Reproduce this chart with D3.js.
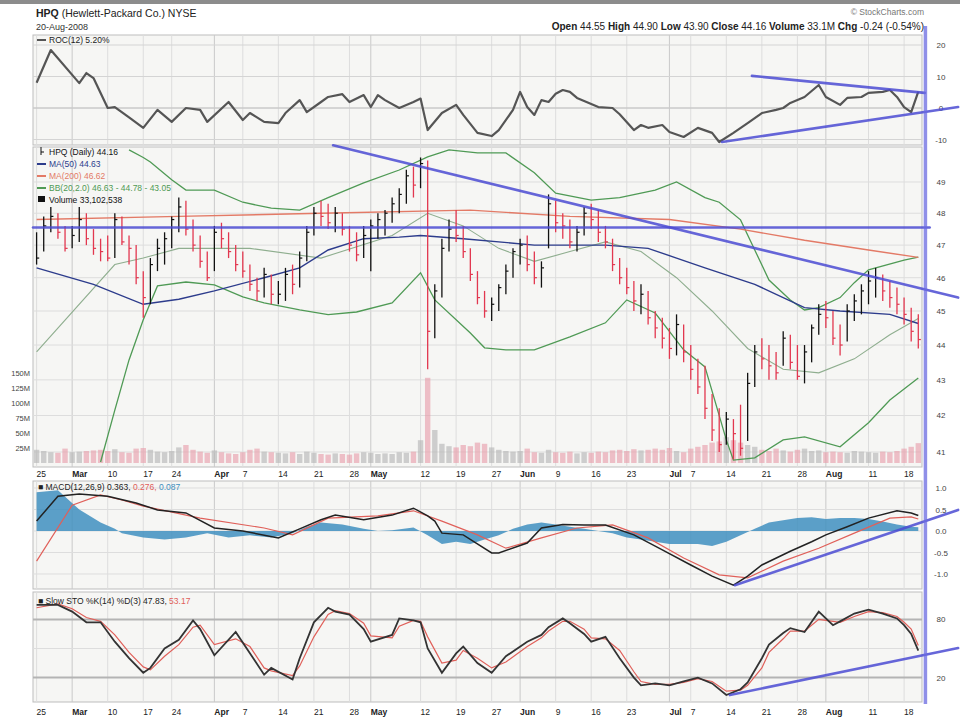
<!DOCTYPE html>
<html><head><meta charset="utf-8">
<script src="https://cdn.jsdelivr.net/npm/d3@7"></script>
<style>body{margin:0;background:#fff;}svg{display:block;font-family:"Liberation Sans",Arial,sans-serif;}</style>
</head><body><svg id="c" width="960" height="720"></svg>
<script>
// ---------- DATA ----------
const dates = ["02-25","02-26","02-27","02-28","02-29",
"03-03","03-04","03-05","03-06","03-07","03-10","03-11","03-12","03-13","03-14",
"03-17","03-18","03-19","03-20","03-24","03-25","03-26","03-27","03-28",
"03-31","04-01","04-02","04-03","04-04","04-07","04-08","04-09","04-10","04-11",
"04-14","04-15","04-16","04-17","04-18","04-21","04-22","04-23","04-24","04-25",
"04-28","04-29","04-30","05-01","05-02","05-05","05-06","05-07","05-08","05-09",
"05-12","05-13","05-14","05-15","05-16","05-19","05-20","05-21","05-22","05-23",
"05-27","05-28","05-29","05-30","06-02","06-03","06-04","06-05","06-06",
"06-09","06-10","06-11","06-12","06-13","06-16","06-17","06-18","06-19","06-20",
"06-23","06-24","06-25","06-26","06-27","06-30","07-01","07-02","07-03",
"07-07","07-08","07-09","07-10","07-11","07-14","07-15","07-16","07-17","07-18",
"07-21","07-22","07-23","07-24","07-25","07-28","07-29","07-30","07-31","08-01",
"08-04","08-05","08-06","08-07","08-08","08-11","08-12","08-13","08-14","08-15",
"08-18","08-19","08-20"];

const high = [47.4,47.9,48.2,48.0,47.6, 47.6,48.2,48.0,47.5,47.2, 47.3,48.0,47.9,47.3,47.0,
 46.2,46.6,47.2,47.4, 47.9,48.5,48.4,47.8,47.3, 46.8,47.6,47.7,47.4,47.0, 46.8,46.4,46.0,46.3,46.1,
 45.9,46.3,46.4,46.8,47.6, 48.2,48.4,48.3,48.2,48.0, 47.6,47.4,47.6,47.8,48.0, 48.1,48.5,48.8,49.4,49.5,
 49.8,49.7,45.8,47.2,47.8, 48.1,47.6,46.9,46.2,45.6, 45.4,45.8,46.4,46.9, 47.2,47.3,46.8,46.5,48.6,
 48.4,48.0,47.8,47.6,48.2, 48.3,48.1,47.6,47.2,46.6, 46.3,45.9,45.8,45.6,45.0, 44.8,44.5,44.9,44.6,
 44.0,43.6,43.4,42.6,42.2, 42.1,41.9,42.3,43.2,44.0, 44.2,44.0,43.8,44.4,44.3, 44.0,44.0,44.6,45.2,45.3,
 45.0,44.6,45.2,45.5,45.8, 46.2,46.3,46.1,45.9,45.7, 45.4,45.1,44.9];
const low = [46.4,46.8,47.4,47.2,46.8, 46.9,47.1,47.0,46.7,46.5, 46.5,46.6,47.0,46.4,45.8,
 44.8,45.2,46.2,46.4, 46.9,47.4,47.3,46.8,46.3, 45.9,46.2,46.9,46.6,46.2, 46.0,45.6,45.3,45.4,45.2,
 45.2,45.3,45.5,45.7,46.5, 47.3,47.6,47.5,47.4,47.3, 46.8,46.5,46.6,46.2,47.2, 47.3,47.7,48.0,48.3,48.5,
 48.8,43.3,44.2,45.4,46.8, 47.1,46.6,45.9,45.2,44.8, 44.7,45.0,45.5,46.0, 46.4,46.2,45.8,45.7,46.9,
 47.4,47.2,46.9,46.8,47.3, 47.5,47.1,46.9,46.2,45.8, 45.5,45.0,44.9,44.6,44.2, 43.9,43.6,43.7,43.5,
 43.0,42.6,41.9,41.3,41.0, 41.2,40.8,40.9,41.3,42.8, 43.3,43.0,43.0,43.4,43.3, 43.0,42.9,43.5,44.3,44.5,
 44.0,43.7,44.1,44.7,44.9, 45.2,45.4,45.3,45.1,44.9, 44.6,44.1,43.9];
const close = [46.6,47.6,47.9,47.4,46.9, 47.3,47.8,47.2,46.9,46.8, 46.6,47.8,47.1,46.9,46.0,
 45.4,46.4,46.9,47.2, 47.8,48.2,47.5,47.0,46.5, 46.0,47.4,47.2,46.8,46.4, 46.2,45.8,45.6,46.1,45.5,
 45.5,46.1,45.8,46.6,47.4, 48.0,47.9,47.7,48.0,47.5, 47.0,46.7,47.3,47.6,47.8, 48.0,48.3,48.6,49.2,48.9,
 49.6,44.4,45.6,46.9,47.5, 47.3,46.8,46.1,45.4,45.0, 45.2,45.7,46.2,46.8, 47.0,46.4,46.0,46.3,48.3,
 47.7,47.6,47.1,47.4,48.0, 47.8,47.4,47.1,46.4,46.0, 45.7,45.3,45.5,44.8,44.5, 44.2,43.9,44.6,43.8,
 43.3,42.8,42.2,41.6,41.2, 41.9,41.5,41.1,42.9,43.8, 43.6,43.4,43.2,44.2,43.5, 43.1,43.8,44.5,44.9,44.8,
 44.2,44.0,45.0,45.3,45.6, 45.9,46.0,45.6,45.4,45.2, 44.9,44.4,44.16];
const volume = [22,20,18,17,24, 18,19,20,21,22, 20,23,18,17,24, 25,22,19,18, 20,26,30,22,19,
 17,21,18,16,15, 18,22,24,19,18, 17,16,18,15,19, 17,15,14,16,15, 14,16,18,17,15, 16,15,18,17,19,
 38,142,55,32,28, 26,30,28,34,32, 26,22,20,19, 20,24,18,17,22, 18,17,19,16,18, 17,19,18,21,22,
 20,23,21,22,24, 22,25,20,18, 24,27,30,34,36, 43,38,34,30,27, 22,20,24,21,19, 22,24,20,21,18,
 19,18,17,20,19, 18,17,19,18,20, 24,27,33.1];

const xTicks = [["02-25","25"],["03-03","Mar"],["03-10","10"],["03-17","17"],["03-24","24"],
 ["04-01","Apr"],["04-07","7"],["04-14","14"],["04-21","21"],["04-28","28"],["05-01","May"],
 ["05-12","12"],["05-19","19"],["05-27","27"],["06-02","Jun"],["06-09","9"],["06-16","16"],
 ["06-23","23"],["07-01","Jul"],["07-07","7"],["07-14","14"],["07-21","21"],["07-28","28"],
 ["08-01","Aug"],["08-11","11"],["08-18","18"]];
const monthNames = ["Mar","Apr","May","Jun","Jul","Aug"];

const priceTicks = [41,42,43,44,45,46,47,48,49];
const rocTicks = [20,10,0,-10];
const macdTicks = [1.0,0.5,0.0,-0.5,-1.0];
const stoTicks = [80,20];
const volTicks = [25,50,75,100,125,150];

const ma50 = [["02-25",46.3],["03-06",45.8],["03-17",45.2],["03-25",45.35],["04-01",45.6],["04-10",46.0],
 ["04-17",46.3],["04-23",46.85],["04-30",47.2],["05-07",47.25],["05-12",47.3],["05-20",47.2],["06-04",47.0],
 ["06-18",47.0],["06-26",46.9],["07-02",46.6],["07-09",46.3],["07-18",45.8],["07-29",45.1],["08-05",45.0],
 ["08-14",44.9],["08-20",44.63]];
const ma200 = [["02-25",47.8],["03-25",47.9],["04-22",48.0],["05-21",48.1],["06-11",47.9],["07-01",47.8],
 ["07-16",47.5],["07-29",47.15],["08-11",46.85],["08-20",46.62]];
const bbUpper = [["03-13",50.05],["03-17",49.8],["03-18",49.65],["03-24",49.07],["03-26",48.74],["04-01",48.74],
 ["04-07",48.35],["04-11",48.16],["04-17",48.1],["04-23",48.5],["04-30",48.97],["05-07",49.39],["05-13",49.82],
 ["05-16",50.05],["05-22",49.95],["05-29",49.95],["06-04",49.3],["06-09",48.64],["06-16",48.42],["06-20",48.5],
 ["06-27",48.74],["07-02",49.0],["07-09",48.5],["07-11",48.35],["07-16",47.79],["07-18",46.85],["07-22",45.93],
 ["07-25",45.33],["07-29",45.03],["07-31",45.1],["08-05",45.4],["08-07",45.85],["08-11",46.24],["08-18",46.54],
 ["08-20",46.63]];
const bbMiddle = [["02-25",43.8],["03-11",46.4],["03-17",46.6],["03-25",46.9],["04-08",46.9],["04-22",46.6],
 ["05-06",47.3],["05-13",48.0],["05-20",47.6],["05-28",46.9],["06-04",46.5],["06-11",46.8],["06-18",47.1],
 ["06-25",46.8],["07-02",46.0],["07-10",45.0],["07-17",43.9],["07-24",43.3],["07-31",43.2],["08-07",43.6],
 ["08-14",44.3],["08-20",44.78]];
const bbLower = [["03-07",40.73],["03-11",42.15],["03-13",43.57],["03-17",44.74],["03-19",45.75],["03-26",45.87],
 ["04-01",45.78],["04-07",45.42],["04-10",45.24],["04-17",45.03],["04-23",44.89],["04-29",44.97],["05-06",45.24],
 ["05-12",46.15],["05-14",45.33],["05-21",44.35],["05-23",43.92],["05-29",43.86],["06-04",43.86],["06-11",44.24],
 ["06-18",44.65],["06-23",45.33],["06-27",44.94],["07-03",43.86],["07-09",43.37],["07-14",41.33],["07-15",40.78],
 ["07-18",40.84],["07-24",41.33],["07-29",41.41],["08-05",41.14],["08-11",41.8],["08-14",42.43],["08-20",43.05]];

const roc = [["02-25",8],["02-27",18.4],["03-04",7.9],["03-05",11.1],["03-06",9.5],["03-10",0],["03-11",0.3],
 ["03-13",-3],["03-17",-6.3],["03-19",-0.6],["03-24",-4.4],["03-26",0],["03-28",-0.6],["03-31",-4.4],["04-03",1.9],
 ["04-07",-3.8],["04-08",-1.6],["04-10",-4.4],["04-14",-4.8],["04-15",-1.6],["04-17",2.5],["04-18",-1.3],
 ["04-22",1.9],["04-23",3.5],["04-25",4.4],["04-28",1.9],["04-30",4.1],["05-01",0.3],["05-02",4.1],["05-05",2.5],
 ["05-07",0],["05-09",1.9],["05-12",3.0],["05-13",-7.0],["05-15",-1.6],["05-19",1.0],["05-20",-2.2],["05-22",-7.9],
 ["05-27",-8.9],["05-28",-7.0],["05-30",-0.6],["06-02",5.1],["06-03",0.3],["06-04",-2.2],["06-05",2.5],["06-06",1.9],
 ["06-09",4.5],["06-10",5.7],["06-11",5.1],["06-12",3.2],["06-17",0.3],["06-19",0],["06-20",-2],["06-24",-7.0],
 ["06-25",-5.4],["06-26",-6.3],["06-30",-5.4],["07-01",-7.6],["07-03",-9.2],["07-08",-6.3],["07-10",-7.9],
 ["07-11",-10.8],["07-15",-7.9],["07-17",-4.8],["07-21",-1.6],["07-23",-0.6],["07-24",0],["07-25",1.6],
 ["07-29",3.5],["07-31",7.3],["08-01",3.5],["08-05",1.0],["08-06",3.2],["08-08",3.5],["08-11",4.8],["08-13",5.1],
 ["08-14",5.7],["08-15",3.5],["08-18",0.3],["08-19",-1.3],["08-20",5.2]];

const macd = [["02-25",0.23],["02-28",0.81],["03-04",0.86],["03-10",0.81],["03-14",0.65],["03-19",0.49],
 ["03-26",0.42],["04-01",0.07],["04-07",0],["04-14",-0.16],["04-17",0.05],["04-22",0.26],["04-24",0.37],
 ["04-30",0.26],["05-06",0.37],["05-09",0.53],["05-13",0.35],["05-14",0.23],["05-15",-0.05],["05-20",-0.09],
 ["05-27",-0.51],["05-28",-0.51],["06-03",-0.28],["06-05",0.07],["06-10",0.15],["06-13",0.14],["06-18",0.14],
 ["06-24",-0.09],["06-30",-0.44],["07-07",-0.79],["07-10",-1.05],["07-15",-1.26],["07-17",-1.05],["07-21",-0.79],
 ["07-25",-0.47],["07-30",-0.25],["08-01",-0.09],["08-06",0.1],["08-11",0.3],["08-15",0.47],["08-19",0.42],
 ["08-20",0.36]];
const macdSignal = [["02-25",-0.7],["03-03",0.6],["03-07",0.84],["03-12",0.72],["03-17",0.58],["03-28",0.3],
 ["04-10",0.07],["04-16",-0.09],["04-23",0.3],["05-02",0.35],["05-09",0.47],["05-15",0.23],["05-22",-0.09],
 ["05-29",-0.4],["06-05",-0.16],["06-12",0.07],["06-19",0.14],["06-26",-0.16],["07-03",-0.63],["07-11",-1.02],
 ["07-17",-1.09],["07-24",-0.7],["07-31",-0.4],["08-07",-0.05],["08-14",0.3],["08-19",0.33],["08-20",0.28]];
const macdHist = [["02-25",0.9],["02-28",0.95],["03-04",0.5],["03-07",0.2],["03-11",0.05],["03-12",-0.05],
 ["03-17",-0.15],["03-20",-0.2],["03-26",-0.15],["03-31",-0.05],["04-03",-0.15],["04-08",-0.1],["04-11",-0.15],
 ["04-16",-0.05],["04-18",0.1],["04-22",0.2],["04-25",0.15],["04-30",0.05],["05-02",0],["05-06",0.02],
 ["05-09",0.08],["05-13",-0.1],["05-15",-0.3],["05-19",-0.25],["05-21",-0.3],["05-23",-0.2],["05-28",-0.1],
 ["05-30",0.05],["06-03",0.15],["06-05",0.2],["06-09",0.15],["06-11",0.1],["06-13",0.05],["06-17",0],
 ["06-19",-0.05],["06-23",-0.15],["06-25",-0.2],["06-27",-0.25],["07-01",-0.3],["07-03",-0.3],["07-08",-0.3],
 ["07-10",-0.35],["07-14",-0.25],["07-16",-0.1],["07-18",0.05],["07-22",0.2],["07-24",0.25],["07-28",0.3],
 ["07-30",0.32],["08-01",0.28],["08-05",0.3],["08-07",0.3],["08-11",0.28],["08-13",0.22],["08-15",0.15],
 ["08-19",0.1],["08-20",0.087]];

const stoDates = ["02-25","02-28","03-03","03-05","03-07","03-11","03-13","03-17","03-18","03-20","03-25","03-27",
 "03-28","04-01","04-04","04-08","04-10","04-11","04-16","04-17","04-21","04-23","04-24","04-28","04-30","05-01",
 "05-06","05-07","05-09","05-12","05-13","05-15","05-19","05-20","05-22","05-27","05-29","06-03","06-05","06-06",
 "06-10","06-11","06-13","06-16","06-18","06-20","06-24","06-25","06-27","07-01","07-03","07-08","07-10","07-14",
 "07-16","07-17","07-21","07-22","07-24","07-25","07-29","07-31","08-04","08-05","08-07","08-11","08-13","08-15",
 "08-18","08-19","08-20"];
const stoK = [95,95,88,77,77,57,40,25,30,50,59,79,70,43,67,45,23,30,18,40,77,92,88,85,70,57,64,81,79,77,50,25,45,52,
 35,25,42,57,64,72,81,76,65,57,62,40,20,12,14,12,16,20,14,2,8,15,40,54,66,71,67,88,74,78,86,90,86,81,74,65,47.83];
const stoD = [92,96,91,82,78,64,46,31,28,42,54,72,74,54,60,52,30,27,22,32,62,85,89,86,76,63,61,73,79,78,62,35,38,48,
 40,30,36,52,61,68,78,78,70,61,60,48,26,16,13,13,15,19,16,6,7,12,30,46,60,68,68,80,78,77,83,88,87,83,77,70,53.17];

// hand-drawn trend lines: [trading day number, value]
const trendPrice = [[[-0.5,47.55],[125.6,47.55]], [[41.7,50.2],[129.6,45.4]]];
const trendRoc = [[[100.6,10.2],[124.9,4.8]], [[96.4,-10.8],[129.6,0.3]]];
const trendMacd = [[[98.2,-1.26],[129.6,0.49]]];
const trendSto = [[[97.5,2],[129.6,50.5]]];
const markerDay = 125;

// ---------- LAYOUT ----------
const svg = d3.select("#c");
const L = 33, R = 922;
const P = {roc:{t:35,b:145}, price:{t:147,b:467}, macd:{t:481,b:589}, sto:{t:592,b:702}};
const di = new Map(dates.map((d,i)=>[d,i]));
const x = d3.scaleLinear().domain([0, dates.length-1]).range([36.6, 918.3]);
const xd = d => x(di.get(d));
const yRoc = d3.scaleLinear().domain([0,10]).range([108,76.5]);
const yPrice = d3.scaleLog().domain([41,49]).range([452,182]);
const yVol = d3.scaleLinear().domain([0,150]).range([463,373]);
const yMacd = d3.scaleLinear().domain([0,1]).range([531,488]);
const ySto = d3.scaleLinear().domain([0,100]).range([697,600]);

svg.append("rect").attr("width",960).attr("height",720).attr("fill","#fff");
svg.append("rect").attr("width",960).attr("height",4).attr("fill","#8c8c8c");

const defs = svg.append("defs");
Object.entries(P).forEach(([k,p])=>{
  defs.append("clipPath").attr("id","clip-"+k).append("rect")
    .attr("x",L).attr("y",p.t).attr("width",R-L).attr("height",p.b-p.t);
});

// panels + grids
const tickIdx = xTicks.map(t=>di.get(t[0]));
Object.entries(P).forEach(([k,p])=>{
  const g = svg.append("g");
  g.append("rect").attr("x",L).attr("y",p.t).attr("width",R-L).attr("height",p.b-p.t)
    .attr("fill","#f6f6f4").attr("stroke","#bdbdbd");
  g.selectAll("line.v").data(xTicks).join("line")
    .attr("x1",d=>xd(d[0])).attr("x2",d=>xd(d[0])).attr("y1",p.t).attr("y2",p.b)
    .attr("stroke",d=>monthNames.includes(d[1])?"#c9c9c9":"#dddddd").attr("stroke-width",1);
});
function hgrid(vals, ys, color, w){
  svg.append("g").selectAll("line").data(vals).join("line")
    .attr("x1",L).attr("x2",R).attr("y1",d=>ys(d)).attr("y2",d=>ys(d))
    .attr("stroke",color).attr("stroke-width",w||1);
}
hgrid(priceTicks, yPrice, "#dddddd");
hgrid(rocTicks.filter(v=>yRoc(v)>P.roc.t && yRoc(v)<P.roc.b), yRoc, "#d4d4d4");
hgrid([0], yRoc, "#c4c4c4");
hgrid(macdTicks, yMacd, "#dddddd");
hgrid([50], ySto, "#dddddd");
hgrid(stoTicks, ySto, "#b4b4b4", 2);

// right axis labels
function rightLabels(vals, ys, fmt){
  svg.append("g").selectAll("text").data(vals).join("text")
    .attr("x",941).attr("y",d=>ys(d)+3).attr("text-anchor","middle")
    .attr("font-size",8).attr("fill","#444").text(fmt);
}
rightLabels(priceTicks, yPrice, d=>d);
rightLabels(rocTicks, yRoc, d=>d);
rightLabels(macdTicks, yMacd, d=>d.toFixed(1));
rightLabels(stoTicks, ySto, d=>d);
svg.append("g").selectAll("text").data(volTicks).join("text")
  .attr("x",30).attr("y",d=>yVol(d)+3).attr("text-anchor","end")
  .attr("font-size",7.5).attr("fill","#444").text(d=>d+"M");

// x labels
[477,715].forEach(yy=>{
  svg.append("g").selectAll("text").data(xTicks).join("text")
    .attr("x",d=>xd(d[0])).attr("y",yy).attr("font-size",8.5)
    .attr("font-weight",d=>monthNames.includes(d[1])?"bold":"normal")
    .attr("fill","#222").text(d=>d[1]);
});

// ---------- PRICE PANEL ----------
const gp = svg.append("g").attr("clip-path","url(#clip-price)");
const isDown = i => i>0 && close[i] < close[i-1];
gp.selectAll("rect.vol").data(volume).join("rect")
  .attr("x",(d,i)=>x(i)-2.7).attr("width",5.4)
  .attr("y",d=>yVol(d)).attr("height",d=>yVol(0)-yVol(d))
  .attr("fill",(d,i)=>isDown(i)?"#e79aa6":"#b3b3b3").attr("opacity",0.6);

const linePrice = d3.line().x(d=>xd(d[0])).y(d=>yPrice(d[1]));
gp.append("path").datum(bbMiddle).attr("d",linePrice).attr("fill","none").attr("stroke","#8fae8f").attr("stroke-width",1.1);
gp.append("path").datum(bbUpper).attr("d",linePrice).attr("fill","none").attr("stroke","#4f9a55").attr("stroke-width",1.3);
gp.append("path").datum(bbLower).attr("d",linePrice).attr("fill","none").attr("stroke","#4f9a55").attr("stroke-width",1.3);
gp.append("path").datum(ma200).attr("d",linePrice).attr("fill","none").attr("stroke","#e37a66").attr("stroke-width",1.4);
gp.append("path").datum(ma50).attr("d",linePrice).attr("fill","none").attr("stroke","#2d3c8c").attr("stroke-width",1.4);

const bars = gp.append("g");
close.forEach((c,i)=>{
  const col = isDown(i) ? "#e2374f" : "#111";
  bars.append("line").attr("x1",x(i)).attr("x2",x(i)).attr("y1",yPrice(high[i])).attr("y2",yPrice(low[i]))
    .attr("stroke",col).attr("stroke-width",1.3);
  bars.append("line").attr("x1",x(i)).attr("x2",x(i)+2.6).attr("y1",yPrice(c)).attr("y2",yPrice(c))
    .attr("stroke",col).attr("stroke-width",1.2);
});

// price legend
const lg = svg.append("g").attr("font-size",8.5);
const legendRows = [
  {y:155, c:"#111", t:"HPQ (Daily) 44.16", glyph:"bar"},
  {y:167, c:"#2d3c8c", t:"MA(50) 44.63", glyph:"line"},
  {y:179, c:"#e37a66", t:"MA(200) 46.62", glyph:"line"},
  {y:191, c:"#4f9a55", t:"BB(20,2.0) 46.63 - 44.78 - 43.05", glyph:"line"},
  {y:203, c:"#111", t:"Volume 33,102,538", glyph:"box"}
];
legendRows.forEach(r=>{
  if(r.glyph==="line") lg.append("line").attr("x1",37).attr("x2",46).attr("y1",r.y-3).attr("y2",r.y-3).attr("stroke",r.c).attr("stroke-width",2);
  else if(r.glyph==="box") lg.append("rect").attr("x",38).attr("y",r.y-7).attr("width",7).attr("height",6).attr("fill",r.c);
  else { lg.append("line").attr("x1",41).attr("x2",41).attr("y1",r.y-8).attr("y2",r.y).attr("stroke",r.c);
         lg.append("line").attr("x1",41).attr("x2",44).attr("y1",r.y-3).attr("y2",r.y-3).attr("stroke",r.c); }
  lg.append("text").attr("x",49).attr("y",r.y).attr("fill",r.c).text(r.t);
});

// ---------- ROC PANEL ----------
const gr = svg.append("g").attr("clip-path","url(#clip-roc)");
gr.append("path").datum(roc).attr("d",d3.line().x(d=>xd(d[0])).y(d=>yRoc(d[1])))
  .attr("fill","none").attr("stroke","#555").attr("stroke-width",2.2).attr("stroke-linejoin","round");
const rl = svg.append("g").attr("font-size",8.5);
rl.append("line").attr("x1",37).attr("x2",46).attr("y1",40).attr("y2",40).attr("stroke","#555").attr("stroke-width",2);
rl.append("text").attr("x",49).attr("y",43).attr("fill","#222").text("ROC(12) 5.20%");

// ---------- MACD PANEL ----------
const gm = svg.append("g").attr("clip-path","url(#clip-macd)");
gm.append("path").datum(macdHist)
  .attr("d",d3.area().x(d=>xd(d[0])).y0(yMacd(0)).y1(d=>yMacd(d[1])))
  .attr("fill","#3f8fbf").attr("opacity",0.85);
const lineMacd = d3.line().x(d=>xd(d[0])).y(d=>yMacd(d[1]));
gm.append("path").datum(macdSignal).attr("d",lineMacd).attr("fill","none").attr("stroke","#e0605a").attr("stroke-width",1.2);
gm.append("path").datum(macd).attr("d",lineMacd).attr("fill","none").attr("stroke","#222").attr("stroke-width",1.5);
const ml = svg.append("text").attr("x",38).attr("y",490).attr("font-size",8.5);
ml.append("tspan").attr("fill","#222").text("■ MACD(12,26,9) 0.363, ");
ml.append("tspan").attr("fill","#e0605a").text("0.276, ");
ml.append("tspan").attr("fill","#3f8fbf").text("0.087");

// ---------- STOCHASTIC PANEL ----------
const gs = svg.append("g").attr("clip-path","url(#clip-sto)");
const lineSto = d3.line().x(d=>xd(d[0])).y(d=>ySto(d[1]));
gs.append("path").datum(stoDates.map((d,i)=>[d,stoD[i]])).attr("d",lineSto)
  .attr("fill","none").attr("stroke","#e0605a").attr("stroke-width",1.2);
gs.append("path").datum(stoDates.map((d,i)=>[d,stoK[i]])).attr("d",lineSto)
  .attr("fill","none").attr("stroke","#333").attr("stroke-width",1.8);
const sl = svg.append("text").attr("x",38).attr("y",604).attr("font-size",8.5);
sl.append("tspan").attr("fill","#222").text("■ Slow STO %K(14) %D(3) 47.83, ");
sl.append("tspan").attr("fill","#e0605a").text("53.17");

// ---------- ANNOTATIONS ----------
const ann = svg.append("g").attr("fill","none").attr("stroke","#4b4bd2")
  .attr("stroke-width",2.6).attr("stroke-opacity",0.85).attr("stroke-linecap","round");
function trend(list, ys){
  list.forEach(seg=>{
    ann.append("line").attr("x1",x(seg[0][0])).attr("y1",ys(seg[0][1]))
      .attr("x2",x(seg[1][0])).attr("y2",ys(seg[1][1]));
  });
}
trend(trendPrice, yPrice);
trend(trendRoc, yRoc);
trend(trendMacd, yMacd);
trend(trendSto, ySto);
svg.append("line").attr("x1",x(markerDay)).attr("x2",x(markerDay)).attr("y1",26).attr("y2",704)
  .attr("stroke","#6a6ae0").attr("stroke-width",3.5).attr("stroke-opacity",0.75);

// ---------- HEADER ----------
const h1 = svg.append("text").attr("x",36).attr("y",17).attr("font-size",10.5).attr("fill","#222");
h1.append("tspan").attr("font-weight","bold").text("HPQ ");
h1.append("tspan").text("(Hewlett-Packard Co.) NYSE");
svg.append("text").attr("x",36).attr("y",30).attr("font-size",9).attr("fill","#333").text("20-Aug-2008");
svg.append("text").attr("x",924).attr("y",15).attr("text-anchor","end").attr("font-size",8.5).attr("fill","#777").text("© StockCharts.com");
const hdr = [["Open","44.55"],["High","44.90"],["Low","43.90"],["Close","44.16"],["Volume","33.1M"],["Chg","-0.24 (-0.54%)"]];
const h2 = svg.append("text").attr("x",924).attr("y",30).attr("text-anchor","end").attr("font-size",10).attr("fill","#222");
hdr.forEach((h,i)=>{
  h2.append("tspan").attr("font-weight","bold").text((i?"  ":"")+h[0]+" ");
  h2.append("tspan").text(h[1]);
});
</script>
</body></html>
